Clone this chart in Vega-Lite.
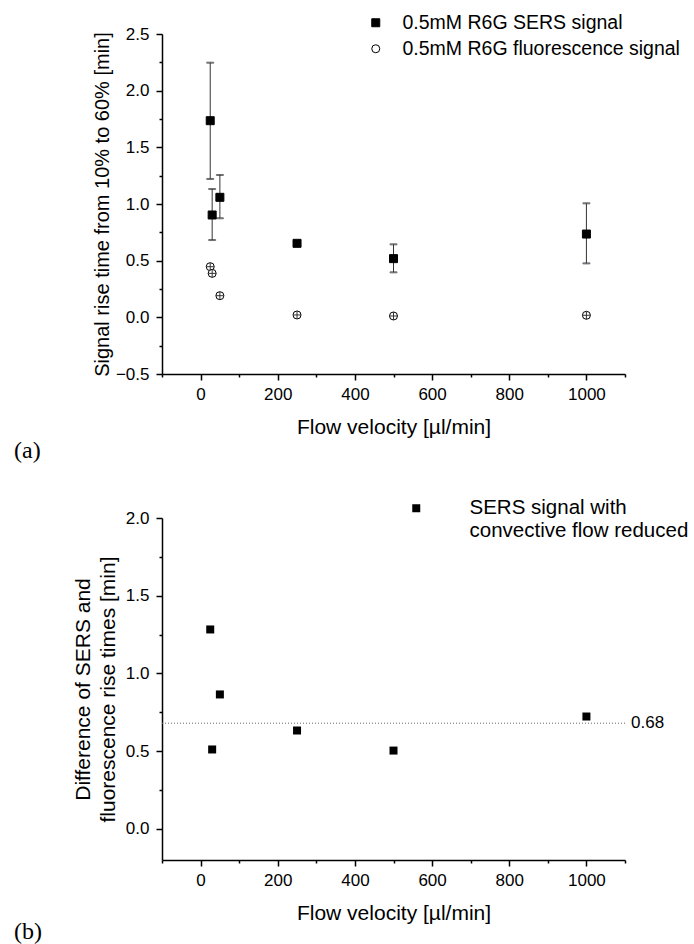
{
  "$schema": "https://vega.github.io/schema/vega-lite/v6.json",
  "background": "white",
  "padding": {"left": 14, "top": 13, "right": 0, "bottom": 0},
  "spacing": 35,
  "resolve": {
    "scale": {"x": "independent", "y": "independent", "shape": "independent", "fill": "independent", "stroke": "independent"},
    "legend": {"shape": "independent", "fill": "independent", "stroke": "independent"}
  },
  "config": {
    "font": "Liberation Sans",
    "view": {"stroke": null},
    "axis": {
      "grid": false,
      "domainColor": "black",
      "domainWidth": 1.5,
      "tickColor": "black",
      "tickWidth": 1.5,
      "labelColor": "black",
      "titleColor": "black",
      "labelFont": "Liberation Sans",
      "titleFont": "Liberation Sans",
      "labelFontSize": 17,
      "titleFontSize": 20,
      "titleFontWeight": "normal"
    },
    "legend": {
      "labelFont": "Liberation Sans",
      "labelColor": "black",
      "labelLimit": 0
    }
  },
  "vconcat": [
    {
      "width": 463,
      "height": 340,
      "title": {"text": "(a)", "orient": "bottom", "anchor": "start", "frame": "group", "dx": -148, "offset": 2, "font": "Liberation Serif", "fontSize": 24, "fontWeight": "normal", "color": "black"},
      "data": {
        "values": [
          {"v": 25, "t": 1.735, "lo": 1.221, "hi": 2.247, "series": "0.5mM R6G SERS signal"},
          {"v": 30, "t": 0.903, "lo": 0.682, "hi": 1.132, "series": "0.5mM R6G SERS signal"},
          {"v": 50, "t": 1.059, "lo": 0.874, "hi": 1.256, "series": "0.5mM R6G SERS signal"},
          {"v": 250, "t": 0.653, "lo": 0.633, "hi": 0.673, "series": "0.5mM R6G SERS signal"},
          {"v": 500, "t": 0.518, "lo": 0.397, "hi": 0.644, "series": "0.5mM R6G SERS signal"},
          {"v": 1000, "t": 0.735, "lo": 0.476, "hi": 1.006, "series": "0.5mM R6G SERS signal"},
          {"v": 25, "t": 0.447, "series": "0.5mM R6G fluorescence signal"},
          {"v": 30, "t": 0.388, "series": "0.5mM R6G fluorescence signal"},
          {"v": 50, "t": 0.191, "series": "0.5mM R6G fluorescence signal"},
          {"v": 250, "t": 0.021, "series": "0.5mM R6G fluorescence signal"},
          {"v": 500, "t": 0.012, "series": "0.5mM R6G fluorescence signal"},
          {"v": 1000, "t": 0.018, "series": "0.5mM R6G fluorescence signal"}
        ]
      },
      "resolve": {"axis": {"x": "independent", "y": "independent"}},
      "layer": [
        {
          "transform": [{"filter": "isValid(datum.lo)"}],
          "mark": {"type": "errorbar", "rule": {"stroke": "#333", "strokeWidth": 1}, "ticks": {"stroke": "#333", "size": 7, "strokeWidth": 1}},
          "encoding": {
            "x": {"field": "v", "type": "quantitative", "scale": {"domain": [-100, 1100], "nice": false, "zero": false},
              "axis": {"orient": "bottom", "values": [0, 200, 400, 600, 800, 1000], "format": "d", "tickSize": 6, "labelPadding": 6, "title": "Flow velocity [µl/min]", "titlePadding": 14, "titleFontSize": 21}},
            "y": {"field": "lo", "type": "quantitative", "scale": {"domain": [-0.5, 2.5], "nice": false, "zero": false},
              "axis": {"orient": "left", "values": [-0.5, 0, 0.5, 1, 1.5, 2, 2.5], "format": ".1f", "tickSize": 6, "labelPadding": 7, "title": "Signal rise time from 10% to 60% [min]", "titlePadding": 3, "titleFontSize": 20}},
            "y2": {"field": "hi"}
          }
        },
        {
          "mark": {"type": "point", "size": 64, "strokeWidth": 1, "opacity": 1},
          "encoding": {
            "x": {"field": "v", "type": "quantitative",
              "axis": {"orient": "bottom", "values": [-100, 100, 300, 500, 700, 900, 1100], "labels": false, "domain": false, "tickSize": 3, "title": null}},
            "y": {"field": "t", "type": "quantitative",
              "axis": {"orient": "left", "values": [-0.25, 0.25, 0.75, 1.25, 1.75, 2.25], "labels": false, "domain": false, "tickSize": 3, "title": null}},
            "shape": {"field": "series", "type": "nominal",
              "scale": {"domain": ["0.5mM R6G SERS signal", "0.5mM R6G fluorescence signal"], "range": ["square", "circle"]},
              "legend": {"orient": "none", "legendX": 204, "legendY": -21, "title": null, "labelFontSize": 19.5, "labelOffset": 17, "symbolSize": 64, "rowPadding": 5, "symbolStrokeWidth": 1}},
            "fill": {"field": "series", "type": "nominal",
              "scale": {"domain": ["0.5mM R6G SERS signal", "0.5mM R6G fluorescence signal"], "range": ["black", "white"]},
              "legend": {"orient": "none", "legendX": 204, "legendY": -21, "title": null, "labelFontSize": 19.5, "labelOffset": 17, "symbolSize": 64, "rowPadding": 5, "symbolStrokeWidth": 1}},
            "stroke": {"field": "series", "type": "nominal",
              "scale": {"domain": ["0.5mM R6G SERS signal", "0.5mM R6G fluorescence signal"], "range": ["black", "black"]},
              "legend": {"orient": "none", "legendX": 204, "legendY": -21, "title": null, "labelFontSize": 19.5, "labelOffset": 17, "symbolSize": 64, "rowPadding": 5, "symbolStrokeWidth": 1}}
          }
        },
        {
          "transform": [{"filter": "datum.series == '0.5mM R6G fluorescence signal'"}],
          "mark": {"type": "point", "shape": "M-1,0H1M0,-1V1", "size": 60, "filled": false, "stroke": "#333", "strokeWidth": 1, "opacity": 1},
          "encoding": {
            "x": {"field": "v", "type": "quantitative", "axis": null},
            "y": {"field": "t", "type": "quantitative", "axis": null}
          }
        }
      ]
    },
    {
      "width": 463,
      "height": 342,
      "title": {"text": "(b)", "orient": "bottom", "anchor": "start", "frame": "group", "dx": -148, "offset": -3, "font": "Liberation Serif", "fontSize": 24, "fontWeight": "normal", "color": "black"},
      "resolve": {"axis": {"x": "independent", "y": "independent"}},
      "layer": [
        {
          "data": {"values": [{"m": 0.68, "label": "0.68"}]},
          "mark": {"type": "rule", "stroke": "#666", "strokeWidth": 1, "strokeDash": [1, 2]},
          "encoding": {
            "y": {"field": "m", "type": "quantitative", "axis": null}
          }
        },
        {
          "data": {"values": [{"m": 0.68, "label": "0.68"}]},
          "mark": {"type": "text", "align": "left", "baseline": "middle", "dx": 6, "fontSize": 17, "color": "black", "font": "Liberation Sans"},
          "encoding": {
            "x": {"datum": 1100, "type": "quantitative",
              "axis": {"orient": "bottom", "values": [-100, 100, 300, 500, 700, 900, 1100], "labels": false, "domain": false, "tickSize": 3, "title": null}},
            "y": {"field": "m", "type": "quantitative",
              "axis": {"orient": "left", "values": [0.25, 0.75, 1.25, 1.75], "labels": false, "domain": false, "tickSize": 3, "title": null}},
            "text": {"field": "label"}
          }
        },
        {
          "data": {
            "values": [
              {"v": 25, "d": 1.283, "series": "SERS signal with convective flow reduced"},
              {"v": 30, "d": 0.511, "series": "SERS signal with convective flow reduced"},
              {"v": 50, "d": 0.865, "series": "SERS signal with convective flow reduced"},
              {"v": 250, "d": 0.633, "series": "SERS signal with convective flow reduced"},
              {"v": 500, "d": 0.504, "series": "SERS signal with convective flow reduced"},
              {"v": 1000, "d": 0.723, "series": "SERS signal with convective flow reduced"}
            ]
          },
          "mark": {"type": "point", "size": 64, "filled": true, "color": "black", "opacity": 1},
          "encoding": {
            "x": {"field": "v", "type": "quantitative", "scale": {"domain": [-100, 1100], "nice": false, "zero": false},
              "axis": {"orient": "bottom", "values": [0, 200, 400, 600, 800, 1000], "format": "d", "tickSize": 6, "labelPadding": 6, "title": "Flow velocity [µl/min]", "titlePadding": 14, "titleFontSize": 21}},
            "y": {"field": "d", "type": "quantitative", "scale": {"domain": [-0.2, 2.0], "nice": false, "zero": false},
              "axis": {"orient": "left", "values": [0, 0.5, 1, 1.5, 2], "format": ".1f", "tickSize": 6, "labelPadding": 7, "title": ["Difference of SERS and", "fluorescence rise times [min]"], "titlePadding": 7, "titleFontSize": 21, "titleLineHeight": 25}},
            "shape": {"field": "series", "type": "nominal", "scale": {"range": ["square"]},
              "legend": {"orient": "none", "legendX": 244, "legendY": -20, "title": null, "labelFontSize": 20.5, "labelOffset": 43, "labelBaseline": "middle", "labelExpr": "['SERS signal with', 'convective flow reduced']", "symbolSize": 64, "symbolFillColor": "black", "symbolStrokeColor": "black"}}
          }
        }
      ]
    }
  ]
}
